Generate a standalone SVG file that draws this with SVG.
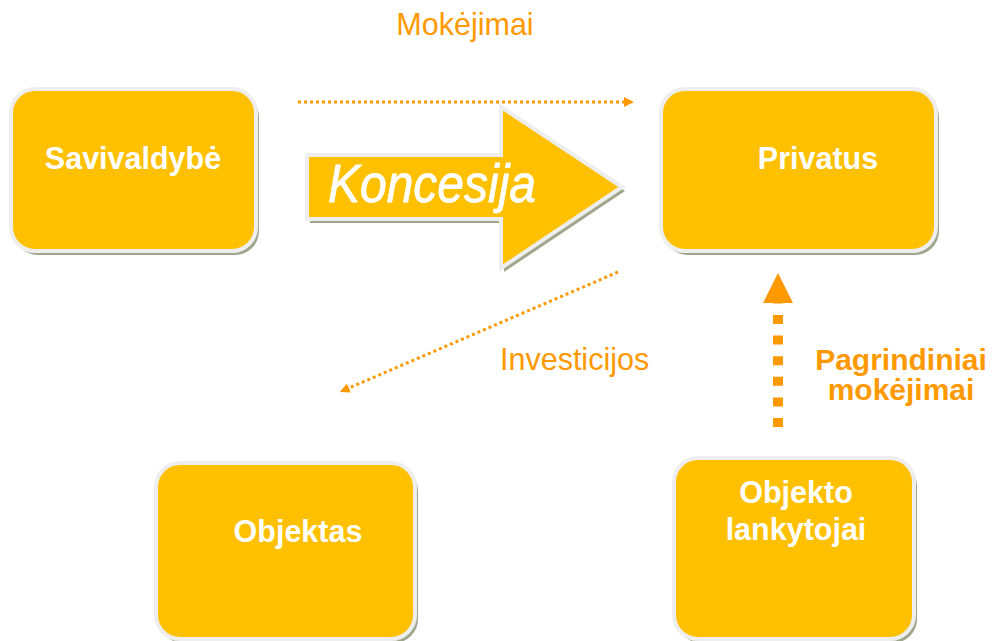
<svg xmlns="http://www.w3.org/2000/svg" width="992" height="641" viewBox="0 0 992 641">
  <style>
    .shadow { fill: #9EA68C; }
    .box { fill: #FFC000; stroke: #EEEEEE; stroke-width: 4; }
    .lbl { font-family: "Liberation Sans", Arial, sans-serif; font-weight: bold; font-size: 30.5px; fill: #FFFFFF; text-anchor: middle; }
    .flow { font-family: "Liberation Sans", Arial, sans-serif; font-size: 30.5px; fill: #FF9900; }
    .flowb { font-family: "Liberation Sans", Arial, sans-serif; font-weight: bold; font-size: 30px; fill: #FF9900; text-anchor: middle; }
    .dots { fill: none; stroke: #FF9900; stroke-width: 3; stroke-dasharray: 3 3; }
    .bigdots { fill: none; stroke: #FF9900; stroke-width: 10; stroke-dasharray: 9 11.6; }
  </style>
  <defs>
    <marker id="head-small" viewBox="0 0 10 10" refX="0" refY="5" markerUnits="userSpaceOnUse" markerWidth="10" markerHeight="10" orient="auto">
      <path d="M0,0 L10,5 L0,10 z" fill="#FF9900"/>
    </marker>
    <marker id="head-big" viewBox="0 0 30 30" refX="0" refY="15" markerUnits="userSpaceOnUse" markerWidth="30" markerHeight="30" orient="auto">
      <path d="M0,0 L30,15 L0,30 z" fill="#FF9900"/>
    </marker>
  </defs>

  <rect width="992" height="641" fill="#FFFFFF"/>

  <!-- Concession arrow -->
  <g id="koncesija">
    <polygon class="shadow" points="310,159 504,159 504,111 625,191 504,272 504,223 310,223"/>
    <polygon class="box" points="307,155 501,155 501,107 622,187 501,268 501,219 307,219"/>
    <text x="328" y="202" font-family="Liberation Sans, Arial, sans-serif" font-style="italic" font-size="53" fill="#FFFFFF" stroke="#FFFFFF" stroke-width="0.8" textLength="208" lengthAdjust="spacingAndGlyphs">Koncesija</text>
  </g>

  <!-- Nodes -->
  <g id="savivaldybe">
    <rect class="shadow" x="14" y="93" width="245" height="162" rx="24"/>
    <rect class="box" x="11" y="89" width="245" height="162" rx="24"/>
    <text class="lbl" x="133" y="169">Savivaldybė</text>
  </g>

  <g id="privatus">
    <rect class="shadow" x="664" y="93" width="275" height="162" rx="24"/>
    <rect class="box" x="661" y="89" width="275" height="162" rx="24"/>
    <text class="lbl" x="818" y="169">Privatus</text>
  </g>

  <g id="objektas">
    <rect class="shadow" x="159" y="467" width="259" height="176" rx="24"/>
    <rect class="box" x="156" y="463" width="259" height="176" rx="24"/>
    <text class="lbl" x="298" y="542">Objektas</text>
  </g>

  <g id="lankytojai">
    <rect class="shadow" x="677" y="462" width="240" height="181" rx="24"/>
    <rect class="box" x="674" y="458" width="240" height="181" rx="24"/>
    <text class="lbl" x="796" y="503">Objekto</text>
    <text class="lbl" x="796" y="540">lankytojai</text>
  </g>

  <!-- Connectors -->
  <g id="connectors">
    <line class="dots" x1="298" y1="102" x2="624" y2="102" marker-end="url(#head-small)"/>
    <line class="dots" x1="618" y1="272" x2="349" y2="388" marker-end="url(#head-small)"/>
    <line class="bigdots" x1="778" y1="427" x2="778" y2="303" marker-end="url(#head-big)"/>
  </g>

  <!-- Flow labels -->
  <g id="labels">
    <text class="flow" x="465" y="35" text-anchor="middle">Mokėjimai</text>
    <text class="flow" x="500" y="370">Investicijos</text>
    <text class="flowb" x="901" y="370">Pagrindiniai</text>
    <text class="flowb" x="901" y="400">mokėjimai</text>
  </g>
</svg>
